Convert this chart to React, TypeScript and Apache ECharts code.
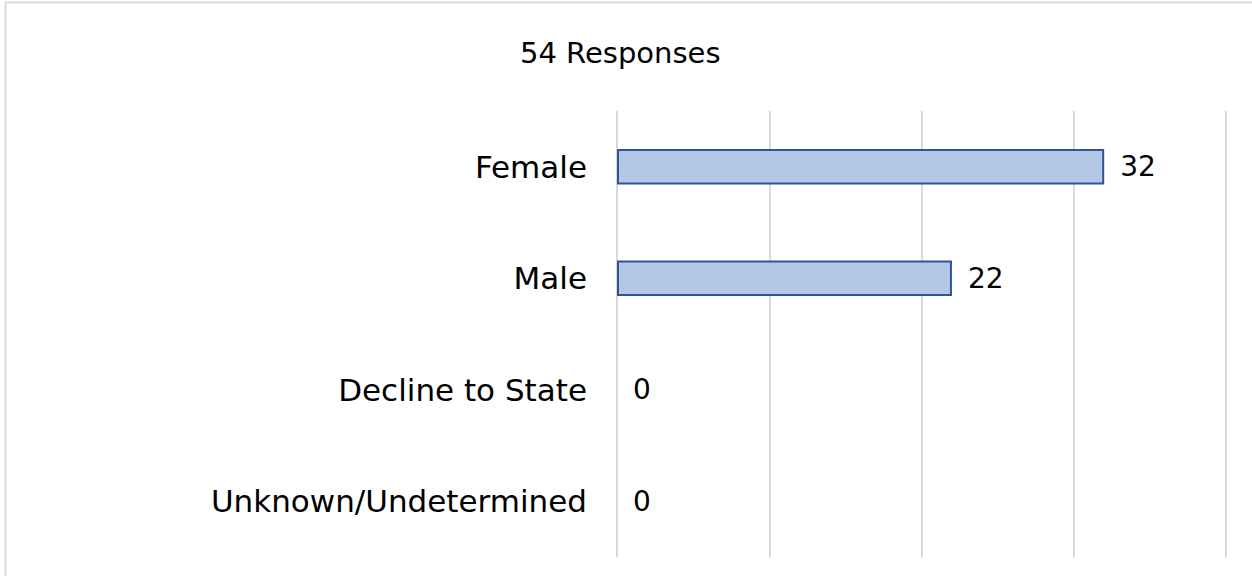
import React, { useEffect, useRef } from "react";
import * as echarts from "echarts";

const titleText = "54 Responses";
const categories = ["Female", "Male", "Decline to State", "Unknown/Undetermined"];
const values = [32, 22, 0, 0];
const axisMax = 40;
const axisInterval = 10;

const FONT = "'DejaVu Sans', sans-serif";

export default function App() {
  const ref = useRef<HTMLDivElement>(null);
  useEffect(() => {
    document.body.style.margin = "0";
    const chart = echarts.init(ref.current!, undefined, { renderer: "svg" });
    chart.setOption({
      animation: false,
      backgroundColor: "#ffffff",
      title: {
        text: titleText,
        left: 515,
        top: 33,
        textStyle: { fontFamily: FONT, fontSize: 29, fontWeight: "normal", color: "#000000" },
      },
      graphic: [
        {
          type: "rect",
          shape: { x: 5.5, y: 2.5, width: 1400, height: 800 },
          style: { fill: "none", stroke: "#d9d9d9", lineWidth: 2 },
          silent: true,
        },
      ],
      grid: { left: 617, right: 26, top: 111, bottom: 19, containLabel: false },
      xAxis: {
        type: "value",
        min: 0,
        max: axisMax,
        interval: axisInterval,
        axisLabel: { show: false },
        axisLine: { show: false },
        axisTick: { show: false },
        splitLine: { show: true, lineStyle: { color: "#d9d9d9", width: 2 } },
      },
      yAxis: {
        type: "category",
        data: categories,
        inverse: true,
        axisLine: { show: false },
        axisTick: { show: false },
        axisLabel: {
          margin: 30,
          fontFamily: FONT,
          fontSize: 31,
          color: "#000000",
        },
      },
      series: [
        {
          type: "bar",
          data: values.map((v) => ({
            value: v,
            itemStyle: v === 0 ? { borderWidth: 0 } : undefined,
          })),
          barCategoryGap: "68%",
          itemStyle: { color: "#b4c7e7", borderColor: "#2f5597", borderWidth: 2 },
          label: {
            show: true,
            position: "right",
            distance: 16,
            fontFamily: FONT,
            fontSize: 28,
            color: "#000000",
          },
        },
      ],
    });
    return () => chart.dispose();
  }, []);
  return (
    <div
      ref={ref}
      style={{ position: "fixed", left: 0, top: 0, width: 1252, height: 576 }}
    />
  );
}
